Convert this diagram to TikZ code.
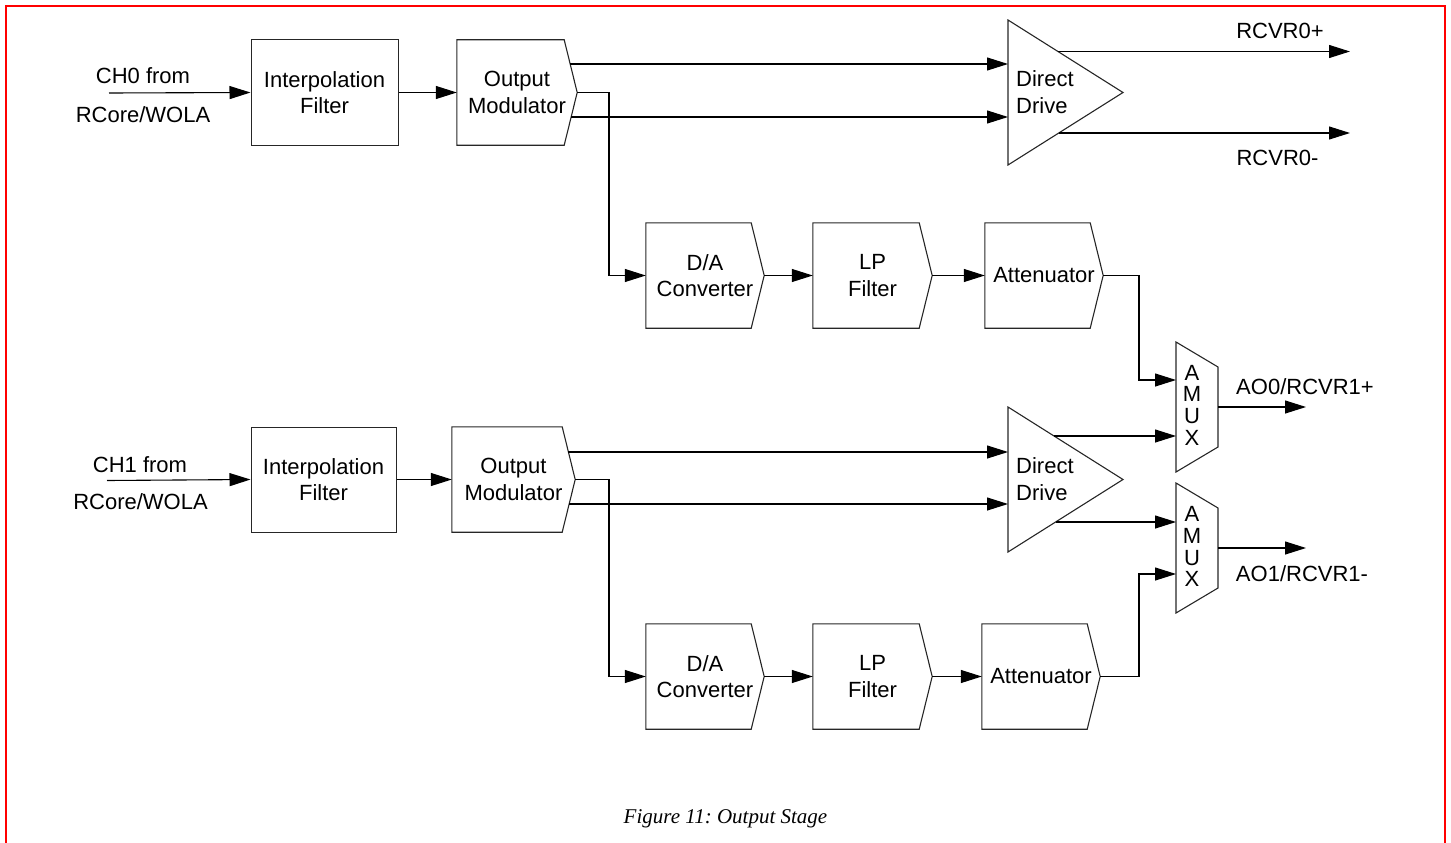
\documentclass[tikz,border=0pt]{standalone}
\usepackage{fontspec}
\setmainfont{Liberation Sans}
\newfontfamily\capfont{Liberation Serif}
\usetikzlibrary{arrows.meta,calc}
\newcommand\chevout[1]{\draw[outl] (#1.north west) -- ([xshift=-13pt]#1.north east) -- (#1.east) -- ([xshift=-13pt]#1.south east) -- (#1.south west) -- cycle;}
\frenchspacing
\begin{document}
\begin{tikzpicture}[x=1pt,y=-1pt,
  every node/.style={font=\fontsize{22}{26.4}\selectfont, inner sep=0pt},
  blockbox/.style={draw=black!85, line width=1pt, minimum height=105, align=center},
  chev/.style={minimum height=105, minimum width=118, align=center},
  outl/.style={draw=black!85, line width=1.1pt, line join=miter},
  arr/.style={line width=1.1pt, -{Triangle[length=21pt,width=13pt]}},
  lbl/.style={anchor=base}
]
\useasboundingbox (0,0) rectangle (1451,843);
\draw[red, line width=2.5pt] (6,860) -- (6,6) -- (1445,6) -- (1445,860);

% ---------- channel 0 ----------
\node[lbl] (ch0a) at (143,84) {CH0 from};
\node[lbl] (ch0b) at (143,122) {RCore/WOLA};
\coordinate (in0) at (109,93);
\node[blockbox, minimum width=147] (if0) at (324.5,92.5) {Interpolation\\Filter};
\node[chev, minimum width=120] (om0) at (517,92.5) {Output\\Modulator};
\chevout{om0}

\coordinate (dd0top) at (1008,20);
\coordinate (dd0tip) at (1123,92.5);
\coordinate (dd0bot) at (1008,165);
\draw[outl] (dd0top) -- (dd0tip) -- (dd0bot) -- cycle;
\node[anchor=west, align=left] (dd0) at (1016,92) {Direct\\Drive};
\coordinate (dd0a) at (1008,64);
\coordinate (dd0b) at (1008,117);
\coordinate (dd0p) at (1058,51.5);
\coordinate (dd0m) at (1059,133);
\coordinate (r0p) at (1350,51.5);
\coordinate (r0m) at (1350,133);
\node[lbl] (r0plbl) at (1280,39) {RCVR0+};
\node[lbl] (r0mlbl) at (1277.5,165) {RCVR0-};

\node[chev] (da0) at (705,275.5) {D/A\\Converter};
\chevout{da0}
\node[chev, minimum width=119] (lp0) at (872.5,275.5) {LP\\Filter};
\chevout{lp0}
\node[chev] (at0) at (1044,275.5) {Attenuator};
\chevout{at0}

\draw[arr] (in0) -- (if0.west);
\draw[arr] (if0.east) -- (om0.west);
\draw[arr] ([xshift=-7pt]om0.east |- dd0a) -- (dd0a);
\draw[arr] ([xshift=-6pt]om0.east |- dd0b) -- (dd0b);
\coordinate (tap0) at (609,275.5);
\draw[arr] (om0.east) -| (tap0) -- (da0.west);
\draw[arr] (da0.east) -- (lp0.west);
\draw[arr] (lp0.east) -- (at0.west);
\draw[arr] (dd0p) -- (r0p);
\draw[arr] (dd0m) -- (r0m);

% ---------- multiplexers ----------
\coordinate (m0a) at (1176,380);
\coordinate (m0b) at (1176,436);
\draw[outl] (1176,342) -- (1218,367) -- (1218,447) -- (1176,472) -- cycle;
\node[align=center, font=\fontsize{22}{21.7}\selectfont] (mux0) at (1192,405) {A\\M\\U\\X};
\coordinate (m0o) at (1218,407);
\coordinate (ao0) at (1306,407);
\draw[arr] (m0o) -- (ao0);
\node[lbl] (ao0lbl) at (1305,394) {AO0/RCVR1+};

\coordinate (m1a) at (1176,522);
\coordinate (m1b) at (1176,574);
\draw[outl] (1176,483) -- (1218,508) -- (1218,588) -- (1176,613) -- cycle;
\node[align=center, font=\fontsize{22}{21.7}\selectfont] (mux1) at (1192,546.6) {A\\M\\U\\X};
\coordinate (m1o) at (1218,548);
\coordinate (ao1) at (1306,548);
\draw[arr] (m1o) -- (ao1);
\node[lbl] (ao1lbl) at (1302,581) {AO1/RCVR1-};

\coordinate (bend0) at (1139,380);
\draw[arr] (at0.east) -| (bend0) -- (m0a);

% ---------- channel 1 ----------
\node[lbl] (ch1a) at (140,472) {CH1 from};
\node[lbl] (ch1b) at (140.5,509) {RCore/WOLA};
\coordinate (in1) at (107,480.5);
\node[blockbox, minimum width=145] (if1) at (323.5,479.5) {Interpolation\\Filter};
\node[chev, minimum width=123] (om1) at (513.5,479.5) {Output\\Modulator};
\chevout{om1}

\coordinate (dd1top) at (1008,407);
\coordinate (dd1tip) at (1123,479.5);
\coordinate (dd1bot) at (1008,552);
\draw[outl] (dd1top) -- (dd1tip) -- (dd1bot) -- cycle;
\node[anchor=west, align=left] (dd1) at (1016,479) {Direct\\Drive};
\coordinate (dd1a) at (1008,452);
\coordinate (dd1b) at (1008,504);
\coordinate (dd1p) at (1054,436);
\coordinate (dd1m) at (1055.5,522);

\node[chev] (da1) at (705,676.5) {D/A\\Converter};
\chevout{da1}
\node[chev, minimum width=119] (lp1) at (872.5,676.5) {LP\\Filter};
\chevout{lp1}
\node[chev] (at1) at (1041,676.5) {Attenuator};
\chevout{at1}

\draw[arr] (in1) -- (if1.west);
\draw[arr] (if1.east) -- (om1.west);
\draw[arr] ([xshift=-7pt]om1.east |- dd1a) -- (dd1a);
\draw[arr] ([xshift=-6pt]om1.east |- dd1b) -- (dd1b);
\coordinate (tap1) at (609,676.5);
\draw[arr] (om1.east) -| (tap1) -- (da1.west);
\draw[arr] (da1.east) -- (lp1.west);
\draw[arr] (lp1.east) -- (at1.west);
\draw[arr] (dd1p) -- (m0b);
\draw[arr] (dd1m) -- (m1a);
\coordinate (bend1) at (1139,574);
\draw[arr] (at1.east) -| (bend1) -- (m1b);

% ---------- caption ----------
\node[lbl, font=\capfont\itshape\fontsize{21}{25}\selectfont] (cap) at (725.5,823) {Figure 11: Output Stage};
\end{tikzpicture}
\end{document}
